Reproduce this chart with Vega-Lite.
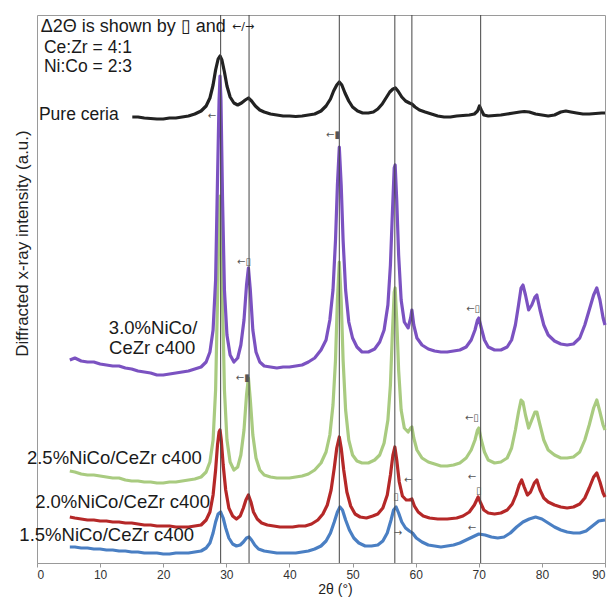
{
"$schema": "https://vega.github.io/schema/vega-lite/v6.json",
"width": 568,
"height": 548,
"autosize": {"type": "none"},
"padding": {"left": 37, "top": 15, "right": 4, "bottom": 34},
"config": {"view": {"stroke": "#9a9a9a", "strokeWidth": 1}, "font": "Liberation Sans"},
"datasets": {
"traces": [
{"sample":"1.5%","angle":5.2,"intensity":16},{"sample":"1.5%","angle":6,"intensity":16},{"sample":"1.5%","angle":7,"intensity":15},{"sample":"1.5%","angle":8,"intensity":15},{"sample":"1.5%","angle":9,"intensity":14},{"sample":"1.5%","angle":10,"intensity":14},{"sample":"1.5%","angle":11,"intensity":13},{"sample":"1.5%","angle":12,"intensity":13},{"sample":"1.5%","angle":13,"intensity":12},{"sample":"1.5%","angle":14,"intensity":12},{"sample":"1.5%","angle":15,"intensity":11},{"sample":"1.5%","angle":16,"intensity":11},{"sample":"1.5%","angle":17,"intensity":10},{"sample":"1.5%","angle":18,"intensity":10},{"sample":"1.5%","angle":19,"intensity":10},{"sample":"1.5%","angle":20,"intensity":9},{"sample":"1.5%","angle":21,"intensity":9},{"sample":"1.5%","angle":22,"intensity":10},{"sample":"1.5%","angle":23,"intensity":10},{"sample":"1.5%","angle":24,"intensity":10},{"sample":"1.5%","angle":25,"intensity":11},{"sample":"1.5%","angle":26,"intensity":12},{"sample":"1.5%","angle":26.8,"intensity":15},{"sample":"1.5%","angle":27.4,"intensity":20},{"sample":"1.5%","angle":27.9,"intensity":30},{"sample":"1.5%","angle":28.3,"intensity":41},{"sample":"1.5%","angle":28.7,"intensity":49},{"sample":"1.5%","angle":29.1,"intensity":51},{"sample":"1.5%","angle":29.5,"intensity":45},{"sample":"1.5%","angle":29.9,"intensity":35},{"sample":"1.5%","angle":30.4,"intensity":25},{"sample":"1.5%","angle":31,"intensity":19},{"sample":"1.5%","angle":31.6,"intensity":17},{"sample":"1.5%","angle":32.2,"intensity":18},{"sample":"1.5%","angle":32.7,"intensity":21},{"sample":"1.5%","angle":33.2,"intensity":25},{"sample":"1.5%","angle":33.6,"intensity":26},{"sample":"1.5%","angle":34,"intensity":23},{"sample":"1.5%","angle":34.5,"intensity":18},{"sample":"1.5%","angle":35.1,"intensity":14},{"sample":"1.5%","angle":36,"intensity":12},{"sample":"1.5%","angle":37,"intensity":11},{"sample":"1.5%","angle":38,"intensity":10},{"sample":"1.5%","angle":39,"intensity":10},{"sample":"1.5%","angle":40,"intensity":10},{"sample":"1.5%","angle":41,"intensity":10},{"sample":"1.5%","angle":42,"intensity":11},{"sample":"1.5%","angle":43,"intensity":12},{"sample":"1.5%","angle":44,"intensity":14},{"sample":"1.5%","angle":45,"intensity":17},{"sample":"1.5%","angle":45.8,"intensity":22},{"sample":"1.5%","angle":46.5,"intensity":30},{"sample":"1.5%","angle":47.1,"intensity":41},{"sample":"1.5%","angle":47.6,"intensity":51},{"sample":"1.5%","angle":48,"intensity":56},{"sample":"1.5%","angle":48.4,"intensity":53},{"sample":"1.5%","angle":48.9,"intensity":43},{"sample":"1.5%","angle":49.5,"intensity":33},{"sample":"1.5%","angle":50.2,"intensity":25},{"sample":"1.5%","angle":51,"intensity":20},{"sample":"1.5%","angle":52,"intensity":17},{"sample":"1.5%","angle":53,"intensity":17},{"sample":"1.5%","angle":54,"intensity":18},{"sample":"1.5%","angle":54.8,"intensity":22},{"sample":"1.5%","angle":55.5,"intensity":30},{"sample":"1.5%","angle":56.1,"intensity":43},{"sample":"1.5%","angle":56.5,"intensity":53},{"sample":"1.5%","angle":56.9,"intensity":56},{"sample":"1.5%","angle":57.3,"intensity":50},{"sample":"1.5%","angle":57.8,"intensity":41},{"sample":"1.5%","angle":58.4,"intensity":35},{"sample":"1.5%","angle":59,"intensity":32},{"sample":"1.5%","angle":59.5,"intensity":30},{"sample":"1.5%","angle":60.1,"intensity":25},{"sample":"1.5%","angle":61,"intensity":21},{"sample":"1.5%","angle":62,"intensity":18},{"sample":"1.5%","angle":63,"intensity":17},{"sample":"1.5%","angle":64,"intensity":16},{"sample":"1.5%","angle":65,"intensity":17},{"sample":"1.5%","angle":66,"intensity":18},{"sample":"1.5%","angle":67,"intensity":20},{"sample":"1.5%","angle":68,"intensity":23},{"sample":"1.5%","angle":69,"intensity":26},{"sample":"1.5%","angle":70,"intensity":29},{"sample":"1.5%","angle":71,"intensity":28},{"sample":"1.5%","angle":72,"intensity":26},{"sample":"1.5%","angle":73,"intensity":25},{"sample":"1.5%","angle":74,"intensity":26},{"sample":"1.5%","angle":75,"intensity":30},{"sample":"1.5%","angle":76,"intensity":36},{"sample":"1.5%","angle":77,"intensity":41},{"sample":"1.5%","angle":78,"intensity":44},{"sample":"1.5%","angle":79,"intensity":46},{"sample":"1.5%","angle":80,"intensity":44},{"sample":"1.5%","angle":81,"intensity":40},{"sample":"1.5%","angle":82,"intensity":36},{"sample":"1.5%","angle":83,"intensity":33},{"sample":"1.5%","angle":84,"intensity":31},{"sample":"1.5%","angle":85,"intensity":30},{"sample":"1.5%","angle":86,"intensity":30},{"sample":"1.5%","angle":87,"intensity":32},{"sample":"1.5%","angle":88,"intensity":37},{"sample":"1.5%","angle":89,"intensity":42},{"sample":"1.5%","angle":90,"intensity":43},

{"sample":"2.0%","angle":5.2,"intensity":46},{"sample":"2.0%","angle":6,"intensity":45},{"sample":"2.0%","angle":7,"intensity":44},{"sample":"2.0%","angle":8,"intensity":43},{"sample":"2.0%","angle":9,"intensity":43},{"sample":"2.0%","angle":10,"intensity":42},{"sample":"2.0%","angle":11,"intensity":42},{"sample":"2.0%","angle":12,"intensity":41},{"sample":"2.0%","angle":13,"intensity":41},{"sample":"2.0%","angle":14,"intensity":40},{"sample":"2.0%","angle":15,"intensity":40},{"sample":"2.0%","angle":16,"intensity":39},{"sample":"2.0%","angle":17,"intensity":38},{"sample":"2.0%","angle":18,"intensity":38},{"sample":"2.0%","angle":19,"intensity":37},{"sample":"2.0%","angle":20,"intensity":37},{"sample":"2.0%","angle":21,"intensity":37},{"sample":"2.0%","angle":22,"intensity":36},{"sample":"2.0%","angle":23,"intensity":36},{"sample":"2.0%","angle":24,"intensity":36},{"sample":"2.0%","angle":25,"intensity":37},{"sample":"2.0%","angle":26,"intensity":38},{"sample":"2.0%","angle":26.8,"intensity":43},{"sample":"2.0%","angle":27.4,"intensity":51},{"sample":"2.0%","angle":27.9,"intensity":68},{"sample":"2.0%","angle":28.3,"intensity":93},{"sample":"2.0%","angle":28.6,"intensity":118},{"sample":"2.0%","angle":28.85,"intensity":131},{"sample":"2.0%","angle":29,"intensity":133},{"sample":"2.0%","angle":29.2,"intensity":123},{"sample":"2.0%","angle":29.5,"intensity":98},{"sample":"2.0%","angle":29.9,"intensity":73},{"sample":"2.0%","angle":30.4,"intensity":55},{"sample":"2.0%","angle":31,"intensity":47},{"sample":"2.0%","angle":31.6,"intensity":44},{"sample":"2.0%","angle":32.2,"intensity":47},{"sample":"2.0%","angle":32.7,"intensity":55},{"sample":"2.0%","angle":33.1,"intensity":63},{"sample":"2.0%","angle":33.5,"intensity":68},{"sample":"2.0%","angle":33.9,"intensity":61},{"sample":"2.0%","angle":34.3,"intensity":51},{"sample":"2.0%","angle":34.9,"intensity":44},{"sample":"2.0%","angle":35.6,"intensity":40},{"sample":"2.0%","angle":36.5,"intensity":38},{"sample":"2.0%","angle":37.5,"intensity":37},{"sample":"2.0%","angle":38.5,"intensity":36},{"sample":"2.0%","angle":39.5,"intensity":36},{"sample":"2.0%","angle":40.5,"intensity":36},{"sample":"2.0%","angle":41.5,"intensity":37},{"sample":"2.0%","angle":42.5,"intensity":37},{"sample":"2.0%","angle":43.5,"intensity":39},{"sample":"2.0%","angle":44.5,"intensity":43},{"sample":"2.0%","angle":45.3,"intensity":49},{"sample":"2.0%","angle":46,"intensity":58},{"sample":"2.0%","angle":46.6,"intensity":73},{"sample":"2.0%","angle":47.1,"intensity":95},{"sample":"2.0%","angle":47.5,"intensity":115},{"sample":"2.0%","angle":47.9,"intensity":126},{"sample":"2.0%","angle":48.2,"intensity":115},{"sample":"2.0%","angle":48.6,"intensity":93},{"sample":"2.0%","angle":49.1,"intensity":71},{"sample":"2.0%","angle":49.7,"intensity":57},{"sample":"2.0%","angle":50.4,"intensity":49},{"sample":"2.0%","angle":51.2,"intensity":46},{"sample":"2.0%","angle":52.2,"intensity":45},{"sample":"2.0%","angle":53.2,"intensity":47},{"sample":"2.0%","angle":54,"intensity":49},{"sample":"2.0%","angle":54.8,"intensity":55},{"sample":"2.0%","angle":55.5,"intensity":68},{"sample":"2.0%","angle":56,"intensity":88},{"sample":"2.0%","angle":56.4,"intensity":108},{"sample":"2.0%","angle":56.7,"intensity":116},{"sample":"2.0%","angle":57,"intensity":103},{"sample":"2.0%","angle":57.4,"intensity":81},{"sample":"2.0%","angle":57.9,"intensity":67},{"sample":"2.0%","angle":58.5,"intensity":63},{"sample":"2.0%","angle":59,"intensity":63},{"sample":"2.0%","angle":59.4,"intensity":64},{"sample":"2.0%","angle":59.8,"intensity":57},{"sample":"2.0%","angle":60.4,"intensity":51},{"sample":"2.0%","angle":61.2,"intensity":47},{"sample":"2.0%","angle":62.2,"intensity":45},{"sample":"2.0%","angle":63.5,"intensity":44},{"sample":"2.0%","angle":65,"intensity":44},{"sample":"2.0%","angle":66.5,"intensity":45},{"sample":"2.0%","angle":67.5,"intensity":47},{"sample":"2.0%","angle":68.5,"intensity":51},{"sample":"2.0%","angle":69.3,"intensity":58},{"sample":"2.0%","angle":69.9,"intensity":66},{"sample":"2.0%","angle":70.3,"intensity":60},{"sample":"2.0%","angle":70.8,"intensity":53},{"sample":"2.0%","angle":71.5,"intensity":50},{"sample":"2.0%","angle":72.5,"intensity":49},{"sample":"2.0%","angle":73.5,"intensity":50},{"sample":"2.0%","angle":74.5,"intensity":53},{"sample":"2.0%","angle":75.3,"intensity":59},{"sample":"2.0%","angle":75.9,"intensity":68},{"sample":"2.0%","angle":76.4,"intensity":78},{"sample":"2.0%","angle":76.8,"intensity":83},{"sample":"2.0%","angle":77.2,"intensity":76},{"sample":"2.0%","angle":77.7,"intensity":68},{"sample":"2.0%","angle":78.2,"intensity":71},{"sample":"2.0%","angle":78.8,"intensity":80},{"sample":"2.0%","angle":79.2,"intensity":83},{"sample":"2.0%","angle":79.7,"intensity":73},{"sample":"2.0%","angle":80.3,"intensity":65},{"sample":"2.0%","angle":81,"intensity":61},{"sample":"2.0%","angle":82,"intensity":58},{"sample":"2.0%","angle":83,"intensity":56},{"sample":"2.0%","angle":84,"intensity":55},{"sample":"2.0%","angle":85,"intensity":56},{"sample":"2.0%","angle":86,"intensity":59},{"sample":"2.0%","angle":86.8,"intensity":65},{"sample":"2.0%","angle":87.5,"intensity":75},{"sample":"2.0%","angle":88.2,"intensity":86},{"sample":"2.0%","angle":88.7,"intensity":90},{"sample":"2.0%","angle":89.2,"intensity":81},{"sample":"2.0%","angle":89.7,"intensity":70},{"sample":"2.0%","angle":90,"intensity":66},

{"sample":"2.5%","angle":5.2,"intensity":92},{"sample":"2.5%","angle":6,"intensity":91},{"sample":"2.5%","angle":7,"intensity":89},{"sample":"2.5%","angle":8,"intensity":88},{"sample":"2.5%","angle":9,"intensity":88},{"sample":"2.5%","angle":10,"intensity":87},{"sample":"2.5%","angle":11,"intensity":86},{"sample":"2.5%","angle":12,"intensity":85},{"sample":"2.5%","angle":13,"intensity":85},{"sample":"2.5%","angle":14,"intensity":83},{"sample":"2.5%","angle":15,"intensity":82},{"sample":"2.5%","angle":16,"intensity":82},{"sample":"2.5%","angle":17,"intensity":81},{"sample":"2.5%","angle":18,"intensity":81},{"sample":"2.5%","angle":19,"intensity":80},{"sample":"2.5%","angle":20,"intensity":80},{"sample":"2.5%","angle":21,"intensity":81},{"sample":"2.5%","angle":22,"intensity":81},{"sample":"2.5%","angle":23,"intensity":82},{"sample":"2.5%","angle":24,"intensity":83},{"sample":"2.5%","angle":25,"intensity":84},{"sample":"2.5%","angle":26,"intensity":86},{"sample":"2.5%","angle":26.8,"intensity":91},{"sample":"2.5%","angle":27.4,"intensity":101},{"sample":"2.5%","angle":27.9,"intensity":123},{"sample":"2.5%","angle":28.3,"intensity":173},{"sample":"2.5%","angle":28.6,"intensity":263},{"sample":"2.5%","angle":28.85,"intensity":343},{"sample":"2.5%","angle":29,"intensity":367},{"sample":"2.5%","angle":29.15,"intensity":343},{"sample":"2.5%","angle":29.4,"intensity":263},{"sample":"2.5%","angle":29.7,"intensity":173},{"sample":"2.5%","angle":30.1,"intensity":123},{"sample":"2.5%","angle":30.6,"intensity":101},{"sample":"2.5%","angle":31.2,"intensity":93},{"sample":"2.5%","angle":31.8,"intensity":96},{"sample":"2.5%","angle":32.3,"intensity":108},{"sample":"2.5%","angle":32.8,"intensity":133},{"sample":"2.5%","angle":33.2,"intensity":168},{"sample":"2.5%","angle":33.5,"intensity":185},{"sample":"2.5%","angle":33.8,"intensity":163},{"sample":"2.5%","angle":34.2,"intensity":128},{"sample":"2.5%","angle":34.7,"intensity":105},{"sample":"2.5%","angle":35.3,"intensity":93},{"sample":"2.5%","angle":36,"intensity":88},{"sample":"2.5%","angle":37,"intensity":86},{"sample":"2.5%","angle":38,"intensity":85},{"sample":"2.5%","angle":39,"intensity":85},{"sample":"2.5%","angle":40,"intensity":85},{"sample":"2.5%","angle":41,"intensity":86},{"sample":"2.5%","angle":42,"intensity":87},{"sample":"2.5%","angle":43,"intensity":89},{"sample":"2.5%","angle":44,"intensity":93},{"sample":"2.5%","angle":45,"intensity":100},{"sample":"2.5%","angle":45.8,"intensity":111},{"sample":"2.5%","angle":46.4,"intensity":128},{"sample":"2.5%","angle":46.9,"intensity":158},{"sample":"2.5%","angle":47.3,"intensity":203},{"sample":"2.5%","angle":47.6,"intensity":263},{"sample":"2.5%","angle":47.9,"intensity":301},{"sample":"2.5%","angle":48.2,"intensity":263},{"sample":"2.5%","angle":48.5,"intensity":203},{"sample":"2.5%","angle":48.9,"intensity":153},{"sample":"2.5%","angle":49.4,"intensity":123},{"sample":"2.5%","angle":50,"intensity":108},{"sample":"2.5%","angle":50.7,"intensity":102},{"sample":"2.5%","angle":51.5,"intensity":100},{"sample":"2.5%","angle":52.5,"intensity":100},{"sample":"2.5%","angle":53.5,"intensity":103},{"sample":"2.5%","angle":54.3,"intensity":108},{"sample":"2.5%","angle":55,"intensity":120},{"sample":"2.5%","angle":55.6,"intensity":143},{"sample":"2.5%","angle":56,"intensity":178},{"sample":"2.5%","angle":56.3,"intensity":228},{"sample":"2.5%","angle":56.6,"intensity":271},{"sample":"2.5%","angle":56.75,"intensity":275},{"sample":"2.5%","angle":57,"intensity":243},{"sample":"2.5%","angle":57.3,"intensity":193},{"sample":"2.5%","angle":57.7,"intensity":153},{"sample":"2.5%","angle":58.2,"intensity":135},{"sample":"2.5%","angle":58.8,"intensity":131},{"sample":"2.5%","angle":59.2,"intensity":135},{"sample":"2.5%","angle":59.4,"intensity":136},{"sample":"2.5%","angle":59.7,"intensity":125},{"sample":"2.5%","angle":60.2,"intensity":113},{"sample":"2.5%","angle":61,"intensity":105},{"sample":"2.5%","angle":62,"intensity":101},{"sample":"2.5%","angle":63,"intensity":99},{"sample":"2.5%","angle":64,"intensity":97},{"sample":"2.5%","angle":65,"intensity":97},{"sample":"2.5%","angle":66,"intensity":98},{"sample":"2.5%","angle":67,"intensity":100},{"sample":"2.5%","angle":68,"intensity":105},{"sample":"2.5%","angle":68.8,"intensity":113},{"sample":"2.5%","angle":69.4,"intensity":123},{"sample":"2.5%","angle":69.8,"intensity":133},{"sample":"2.5%","angle":70,"intensity":135},{"sample":"2.5%","angle":70.4,"intensity":123},{"sample":"2.5%","angle":70.9,"intensity":111},{"sample":"2.5%","angle":71.5,"intensity":103},{"sample":"2.5%","angle":72.5,"intensity":100},{"sample":"2.5%","angle":73.5,"intensity":101},{"sample":"2.5%","angle":74.5,"intensity":105},{"sample":"2.5%","angle":75.2,"intensity":115},{"sample":"2.5%","angle":75.8,"intensity":133},{"sample":"2.5%","angle":76.3,"intensity":151},{"sample":"2.5%","angle":76.7,"intensity":163},{"sample":"2.5%","angle":77,"intensity":161},{"sample":"2.5%","angle":77.4,"intensity":148},{"sample":"2.5%","angle":77.9,"intensity":135},{"sample":"2.5%","angle":78.4,"intensity":143},{"sample":"2.5%","angle":78.9,"intensity":151},{"sample":"2.5%","angle":79.2,"intensity":151},{"sample":"2.5%","angle":79.7,"intensity":138},{"sample":"2.5%","angle":80.3,"intensity":123},{"sample":"2.5%","angle":81,"intensity":113},{"sample":"2.5%","angle":82,"intensity":108},{"sample":"2.5%","angle":83,"intensity":105},{"sample":"2.5%","angle":84,"intensity":105},{"sample":"2.5%","angle":85,"intensity":106},{"sample":"2.5%","angle":86,"intensity":111},{"sample":"2.5%","angle":86.8,"intensity":123},{"sample":"2.5%","angle":87.5,"intensity":138},{"sample":"2.5%","angle":88.2,"intensity":155},{"sample":"2.5%","angle":88.7,"intensity":163},{"sample":"2.5%","angle":89.2,"intensity":151},{"sample":"2.5%","angle":89.7,"intensity":138},{"sample":"2.5%","angle":90,"intensity":133},

{"sample":"3.0%","angle":5.2,"intensity":203},{"sample":"3.0%","angle":6,"intensity":205},{"sample":"3.0%","angle":7,"intensity":202},{"sample":"3.0%","angle":8,"intensity":201},{"sample":"3.0%","angle":9,"intensity":201},{"sample":"3.0%","angle":10,"intensity":199},{"sample":"3.0%","angle":11,"intensity":198},{"sample":"3.0%","angle":12,"intensity":197},{"sample":"3.0%","angle":13,"intensity":197},{"sample":"3.0%","angle":14,"intensity":195},{"sample":"3.0%","angle":15,"intensity":194},{"sample":"3.0%","angle":16,"intensity":192},{"sample":"3.0%","angle":17,"intensity":191},{"sample":"3.0%","angle":18,"intensity":190},{"sample":"3.0%","angle":19,"intensity":188},{"sample":"3.0%","angle":20,"intensity":188},{"sample":"3.0%","angle":21,"intensity":189},{"sample":"3.0%","angle":22,"intensity":190},{"sample":"3.0%","angle":23,"intensity":191},{"sample":"3.0%","angle":24,"intensity":192},{"sample":"3.0%","angle":25,"intensity":194},{"sample":"3.0%","angle":26,"intensity":196},{"sample":"3.0%","angle":26.8,"intensity":201},{"sample":"3.0%","angle":27.4,"intensity":211},{"sample":"3.0%","angle":27.9,"intensity":233},{"sample":"3.0%","angle":28.3,"intensity":283},{"sample":"3.0%","angle":28.6,"intensity":383},{"sample":"3.0%","angle":28.85,"intensity":463},{"sample":"3.0%","angle":29,"intensity":487},{"sample":"3.0%","angle":29.15,"intensity":463},{"sample":"3.0%","angle":29.4,"intensity":363},{"sample":"3.0%","angle":29.7,"intensity":273},{"sample":"3.0%","angle":30.1,"intensity":228},{"sample":"3.0%","angle":30.6,"intensity":208},{"sample":"3.0%","angle":31.2,"intensity":201},{"sample":"3.0%","angle":31.8,"intensity":205},{"sample":"3.0%","angle":32.3,"intensity":218},{"sample":"3.0%","angle":32.8,"intensity":243},{"sample":"3.0%","angle":33.2,"intensity":278},{"sample":"3.0%","angle":33.5,"intensity":295},{"sample":"3.0%","angle":33.8,"intensity":273},{"sample":"3.0%","angle":34.2,"intensity":233},{"sample":"3.0%","angle":34.7,"intensity":211},{"sample":"3.0%","angle":35.3,"intensity":201},{"sample":"3.0%","angle":36,"intensity":197},{"sample":"3.0%","angle":37,"intensity":196},{"sample":"3.0%","angle":38,"intensity":195},{"sample":"3.0%","angle":39,"intensity":196},{"sample":"3.0%","angle":40,"intensity":196},{"sample":"3.0%","angle":41,"intensity":197},{"sample":"3.0%","angle":42,"intensity":198},{"sample":"3.0%","angle":43,"intensity":201},{"sample":"3.0%","angle":44,"intensity":205},{"sample":"3.0%","angle":45,"intensity":213},{"sample":"3.0%","angle":45.8,"intensity":223},{"sample":"3.0%","angle":46.4,"intensity":243},{"sample":"3.0%","angle":46.9,"intensity":273},{"sample":"3.0%","angle":47.3,"intensity":323},{"sample":"3.0%","angle":47.6,"intensity":378},{"sample":"3.0%","angle":47.9,"intensity":416},{"sample":"3.0%","angle":48.2,"intensity":378},{"sample":"3.0%","angle":48.5,"intensity":323},{"sample":"3.0%","angle":48.9,"intensity":273},{"sample":"3.0%","angle":49.4,"intensity":241},{"sample":"3.0%","angle":50,"intensity":225},{"sample":"3.0%","angle":50.7,"intensity":216},{"sample":"3.0%","angle":51.5,"intensity":211},{"sample":"3.0%","angle":52.5,"intensity":211},{"sample":"3.0%","angle":53.5,"intensity":214},{"sample":"3.0%","angle":54.3,"intensity":221},{"sample":"3.0%","angle":55,"intensity":233},{"sample":"3.0%","angle":55.6,"intensity":258},{"sample":"3.0%","angle":56,"intensity":298},{"sample":"3.0%","angle":56.3,"intensity":348},{"sample":"3.0%","angle":56.6,"intensity":395},{"sample":"3.0%","angle":56.75,"intensity":398},{"sample":"3.0%","angle":57,"intensity":363},{"sample":"3.0%","angle":57.3,"intensity":308},{"sample":"3.0%","angle":57.7,"intensity":263},{"sample":"3.0%","angle":58.2,"intensity":241},{"sample":"3.0%","angle":58.8,"intensity":235},{"sample":"3.0%","angle":59.2,"intensity":245},{"sample":"3.0%","angle":59.4,"intensity":253},{"sample":"3.0%","angle":59.7,"intensity":238},{"sample":"3.0%","angle":60.2,"intensity":225},{"sample":"3.0%","angle":61,"intensity":218},{"sample":"3.0%","angle":62,"intensity":214},{"sample":"3.0%","angle":63,"intensity":212},{"sample":"3.0%","angle":64,"intensity":211},{"sample":"3.0%","angle":65,"intensity":211},{"sample":"3.0%","angle":66,"intensity":212},{"sample":"3.0%","angle":67,"intensity":213},{"sample":"3.0%","angle":68,"intensity":216},{"sample":"3.0%","angle":68.8,"intensity":223},{"sample":"3.0%","angle":69.4,"intensity":233},{"sample":"3.0%","angle":69.8,"intensity":243},{"sample":"3.0%","angle":70,"intensity":245},{"sample":"3.0%","angle":70.4,"intensity":235},{"sample":"3.0%","angle":70.9,"intensity":223},{"sample":"3.0%","angle":71.5,"intensity":216},{"sample":"3.0%","angle":72.5,"intensity":213},{"sample":"3.0%","angle":73.5,"intensity":213},{"sample":"3.0%","angle":74.5,"intensity":216},{"sample":"3.0%","angle":75.2,"intensity":223},{"sample":"3.0%","angle":75.8,"intensity":238},{"sample":"3.0%","angle":76.3,"intensity":258},{"sample":"3.0%","angle":76.7,"intensity":275},{"sample":"3.0%","angle":77,"intensity":278},{"sample":"3.0%","angle":77.4,"intensity":268},{"sample":"3.0%","angle":77.9,"intensity":253},{"sample":"3.0%","angle":78.4,"intensity":258},{"sample":"3.0%","angle":78.9,"intensity":266},{"sample":"3.0%","angle":79.2,"intensity":268},{"sample":"3.0%","angle":79.7,"intensity":253},{"sample":"3.0%","angle":80.3,"intensity":238},{"sample":"3.0%","angle":81,"intensity":228},{"sample":"3.0%","angle":82,"intensity":222},{"sample":"3.0%","angle":83,"intensity":219},{"sample":"3.0%","angle":84,"intensity":218},{"sample":"3.0%","angle":85,"intensity":219},{"sample":"3.0%","angle":86,"intensity":225},{"sample":"3.0%","angle":86.8,"intensity":238},{"sample":"3.0%","angle":87.5,"intensity":253},{"sample":"3.0%","angle":88.2,"intensity":268},{"sample":"3.0%","angle":88.7,"intensity":275},{"sample":"3.0%","angle":89.2,"intensity":263},{"sample":"3.0%","angle":89.7,"intensity":245},{"sample":"3.0%","angle":90,"intensity":238},

{"sample":"Pure ceria","angle":15.1,"intensity":446},{"sample":"Pure ceria","angle":16,"intensity":446},{"sample":"Pure ceria","angle":17,"intensity":445},{"sample":"Pure ceria","angle":18,"intensity":444.5},{"sample":"Pure ceria","angle":19,"intensity":444},{"sample":"Pure ceria","angle":20,"intensity":444},{"sample":"Pure ceria","angle":21,"intensity":445},{"sample":"Pure ceria","angle":22,"intensity":445},{"sample":"Pure ceria","angle":23,"intensity":446},{"sample":"Pure ceria","angle":24,"intensity":447},{"sample":"Pure ceria","angle":25,"intensity":449},{"sample":"Pure ceria","angle":26,"intensity":452},{"sample":"Pure ceria","angle":26.8,"intensity":457},{"sample":"Pure ceria","angle":27.4,"intensity":465},{"sample":"Pure ceria","angle":27.9,"intensity":478},{"sample":"Pure ceria","angle":28.3,"intensity":493},{"sample":"Pure ceria","angle":28.7,"intensity":504},{"sample":"Pure ceria","angle":29,"intensity":507},{"sample":"Pure ceria","angle":29.3,"intensity":503},{"sample":"Pure ceria","angle":29.7,"intensity":491},{"sample":"Pure ceria","angle":30.1,"intensity":477},{"sample":"Pure ceria","angle":30.6,"intensity":466},{"sample":"Pure ceria","angle":31.2,"intensity":460},{"sample":"Pure ceria","angle":31.8,"intensity":458},{"sample":"Pure ceria","angle":32.4,"intensity":460},{"sample":"Pure ceria","angle":33,"intensity":463},{"sample":"Pure ceria","angle":33.5,"intensity":465},{"sample":"Pure ceria","angle":34,"intensity":462},{"sample":"Pure ceria","angle":34.6,"intensity":457},{"sample":"Pure ceria","angle":35.3,"intensity":453},{"sample":"Pure ceria","angle":36,"intensity":451},{"sample":"Pure ceria","angle":37,"intensity":449},{"sample":"Pure ceria","angle":38,"intensity":448},{"sample":"Pure ceria","angle":39,"intensity":447},{"sample":"Pure ceria","angle":40,"intensity":447},{"sample":"Pure ceria","angle":41,"intensity":446.5},{"sample":"Pure ceria","angle":42,"intensity":447},{"sample":"Pure ceria","angle":43,"intensity":448},{"sample":"Pure ceria","angle":44,"intensity":449},{"sample":"Pure ceria","angle":45,"intensity":452},{"sample":"Pure ceria","angle":45.8,"intensity":457},{"sample":"Pure ceria","angle":46.5,"intensity":464},{"sample":"Pure ceria","angle":47,"intensity":472},{"sample":"Pure ceria","angle":47.5,"intensity":478},{"sample":"Pure ceria","angle":47.9,"intensity":481},{"sample":"Pure ceria","angle":48.3,"intensity":478},{"sample":"Pure ceria","angle":48.8,"intensity":470},{"sample":"Pure ceria","angle":49.4,"intensity":462},{"sample":"Pure ceria","angle":50,"intensity":456},{"sample":"Pure ceria","angle":50.8,"intensity":452},{"sample":"Pure ceria","angle":51.6,"intensity":450},{"sample":"Pure ceria","angle":52.5,"intensity":450},{"sample":"Pure ceria","angle":53.3,"intensity":451},{"sample":"Pure ceria","angle":54,"intensity":454},{"sample":"Pure ceria","angle":54.7,"intensity":459},{"sample":"Pure ceria","angle":55.3,"intensity":465},{"sample":"Pure ceria","angle":55.9,"intensity":471},{"sample":"Pure ceria","angle":56.4,"intensity":474},{"sample":"Pure ceria","angle":56.8,"intensity":475},{"sample":"Pure ceria","angle":57.2,"intensity":472},{"sample":"Pure ceria","angle":57.8,"intensity":466},{"sample":"Pure ceria","angle":58.4,"intensity":462},{"sample":"Pure ceria","angle":59,"intensity":460},{"sample":"Pure ceria","angle":59.4,"intensity":459},{"sample":"Pure ceria","angle":59.9,"intensity":456},{"sample":"Pure ceria","angle":60.6,"intensity":453},{"sample":"Pure ceria","angle":61.5,"intensity":451},{"sample":"Pure ceria","angle":62.5,"intensity":449},{"sample":"Pure ceria","angle":63.5,"intensity":447},{"sample":"Pure ceria","angle":64.5,"intensity":446},{"sample":"Pure ceria","angle":65.5,"intensity":446},{"sample":"Pure ceria","angle":66.5,"intensity":447},{"sample":"Pure ceria","angle":67.5,"intensity":447.5},{"sample":"Pure ceria","angle":68.5,"intensity":448},{"sample":"Pure ceria","angle":69.3,"intensity":449},{"sample":"Pure ceria","angle":69.8,"intensity":452},{"sample":"Pure ceria","angle":70.1,"intensity":457},{"sample":"Pure ceria","angle":70.4,"intensity":453},{"sample":"Pure ceria","angle":70.8,"intensity":448},{"sample":"Pure ceria","angle":71.5,"intensity":447},{"sample":"Pure ceria","angle":72.5,"intensity":447.5},{"sample":"Pure ceria","angle":73.5,"intensity":448},{"sample":"Pure ceria","angle":74.5,"intensity":449},{"sample":"Pure ceria","angle":75.5,"intensity":450},{"sample":"Pure ceria","angle":76.5,"intensity":451},{"sample":"Pure ceria","angle":77.2,"intensity":451.5},{"sample":"Pure ceria","angle":78,"intensity":451},{"sample":"Pure ceria","angle":79,"intensity":449},{"sample":"Pure ceria","angle":80,"intensity":448},{"sample":"Pure ceria","angle":81,"intensity":447},{"sample":"Pure ceria","angle":82,"intensity":448},{"sample":"Pure ceria","angle":83,"intensity":451},{"sample":"Pure ceria","angle":83.8,"intensity":452},{"sample":"Pure ceria","angle":84.6,"intensity":451},{"sample":"Pure ceria","angle":85.5,"intensity":450},{"sample":"Pure ceria","angle":86.5,"intensity":449},{"sample":"Pure ceria","angle":87.5,"intensity":449},{"sample":"Pure ceria","angle":88.5,"intensity":449.5},{"sample":"Pure ceria","angle":89.5,"intensity":450},{"sample":"Pure ceria","angle":90,"intensity":450}
],
"refs": [{"position":29.1},{"position":33.6},{"position":47.9},{"position":56.7},{"position":59.4},{"position":70.3}],
"header": [{"angle":0.6,"intensity":536,"label":"Δ2Θ is shown by ▯ and"}],
"notes": [
{"angle":1.1,"intensity":515,"label":"Ce:Zr = 4:1"},
{"angle":1.1,"intensity":496,"label":"Ni:Co = 2:3"},
{"angle":0.3,"intensity":448,"label":"Pure ceria"}
],
"arrowsKey": [{"angle":30.9,"intensity":536,"label":"←/→"}],
"sampleLabels": [
{"angle":25.4,"intensity":235,"label":"3.0%NiCo/"},
{"angle":25.1,"intensity":215,"label":"CeZr c400"},
{"angle":26.1,"intensity":105,"label":"2.5%NiCo/CeZr c400"},
{"angle":27.4,"intensity":61,"label":"2.0%NiCo/CeZr c400"},
{"angle":24.9,"intensity":28,"label":"1.5%NiCo/CeZr c400"}
],
"shifts": [
{"angle":27.7,"intensity":447,"label":"←"},
{"angle":46.9,"intensity":428,"label":"←▮"},
{"angle":32.8,"intensity":301,"label":"←▯"},
{"angle":69.1,"intensity":254,"label":"←▯"},
{"angle":32.6,"intensity":185,"label":"←▮"},
{"angle":68.9,"intensity":145,"label":"←▯"},
{"angle":58.8,"intensity":83,"label":"←"},
{"angle":68.9,"intensity":86,"label":"←"},
{"angle":70.0,"intensity":72,"label":"▯"},
{"angle":56.9,"intensity":66,"label":"▯"},
{"angle":57.2,"intensity":30,"label":"→"},
{"angle":68.9,"intensity":35,"label":"←"}
]
},
"layer": [
{
"data": {"name": "traces"},
"mark": {"type": "line", "strokeJoin": "round"},
"encoding": {
"x": {"field": "angle", "type": "quantitative", "scale": {"domain": [0, 90], "nice": false, "zero": false},
"axis": {"values": [0,10,20,30,40,50,60,70,80,90], "title": "2θ (°)", "titleFontSize": 14, "titleFontWeight": "normal", "titleColor": "#222", "titlePadding": 2, "titleX": 298, "labelFontSize": 12, "labelColor": "#333", "labelPadding": 2, "tickSize": 4, "tickColor": "#999", "domainColor": "#999", "grid": false}},
"y": {"field": "intensity", "type": "quantitative", "scale": {"domain": [0, 548], "nice": false, "zero": false},
"axis": {"labels": false, "ticks": false, "domain": false, "grid": false, "title": "Diffracted x-ray intensity (a.u.)", "titleFontSize": 17, "titleFontWeight": "normal", "titleColor": "#222", "titlePadding": 6, "titleY": 228}},
"color": {"field": "sample", "type": "nominal", "legend": null,
"scale": {"domain": ["1.5%", "2.0%", "2.5%", "3.0%", "Pure ceria"], "range": ["#4a7fc3", "#b52828", "#a9cb80", "#7b52c1", "#222222"]}},
"strokeWidth": {"field": "sample", "type": "nominal", "legend": null,
"scale": {"domain": ["1.5%", "2.0%", "2.5%", "3.0%", "Pure ceria"], "range": [3.2, 3.2, 3.2, 3.2, 1.4]}}
}
},
{
"data": {"name": "refs"},
"mark": {"type": "rule", "color": "#444", "strokeWidth": 1},
"encoding": {"x": {"field": "position", "type": "quantitative"}}
},
{
"data": {"name": "header"},
"mark": {"type": "text", "align": "left", "baseline": "middle", "fontSize": 18, "color": "#1a1a1a", "font": "Liberation Sans, DejaVu Sans"},
"encoding": {"x": {"field": "angle", "type": "quantitative"}, "y": {"field": "intensity", "type": "quantitative"}, "text": {"field": "label"}}
},
{
"data": {"name": "notes"},
"mark": {"type": "text", "align": "left", "baseline": "middle", "fontSize": 17.5, "color": "#1a1a1a"},
"encoding": {"x": {"field": "angle", "type": "quantitative"}, "y": {"field": "intensity", "type": "quantitative"}, "text": {"field": "label"}}
},
{
"data": {"name": "arrowsKey"},
"mark": {"type": "text", "align": "left", "baseline": "middle", "fontSize": 11, "color": "#1a1a1a", "font": "DejaVu Sans"},
"encoding": {"x": {"field": "angle", "type": "quantitative"}, "y": {"field": "intensity", "type": "quantitative"}, "text": {"field": "label"}}
},
{
"data": {"name": "sampleLabels"},
"mark": {"type": "text", "align": "right", "baseline": "middle", "fontSize": 18.5, "color": "#1a1a1a"},
"encoding": {"x": {"field": "angle", "type": "quantitative"}, "y": {"field": "intensity", "type": "quantitative"}, "text": {"field": "label"}}
},
{
"data": {"name": "shifts"},
"mark": {"type": "text", "align": "center", "baseline": "middle", "fontSize": 10, "color": "#555", "font": "DejaVu Sans"},
"encoding": {"x": {"field": "angle", "type": "quantitative"}, "y": {"field": "intensity", "type": "quantitative"}, "text": {"field": "label"}}
}
]
}
